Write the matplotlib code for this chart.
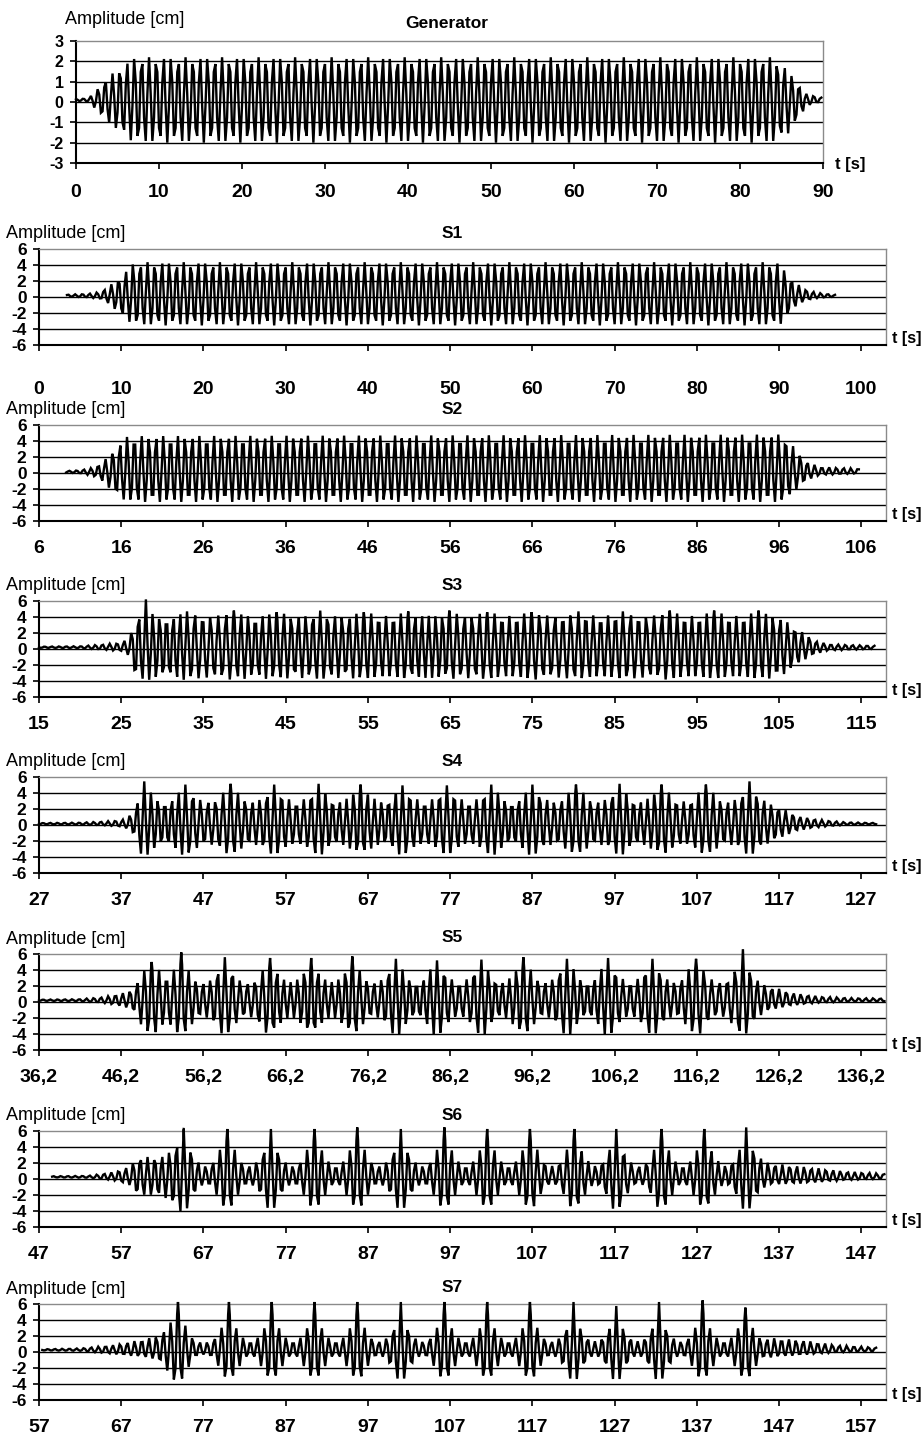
import numpy as np
import matplotlib
matplotlib.use('Agg')
import matplotlib.pyplot as plt
from matplotlib import rcParams

rcParams['font.family'] = ['Liberation Sans', 'DejaVu Sans']
rcParams['axes.unicode_minus'] = False
rcParams['axes.linewidth'] = 1.5

FIG_W, FIG_H = 923, 1434

## carrier wave period [s], about 11 waves per 10 s in the generator record
PERIOD = 0.88
## sampling step of the gauge records [s]
DT = 0.2

## envelopes: time [s], crest height and trough depth [cm]
GEN_T = [0.0, 1.5, 2.5, 3.5, 5.0, 7.0, 84.0, 85.5, 87.0, 88.0, 90.0]
GEN_UP = [0.05, 0.08, 0.5, 1.0, 1.5, 2.1, 2.1, 1.6, 0.8, 0.3, 0.1]
GEN_DN = [0.05, 0.08, 0.5, 1.0, 1.5, 2.1, 2.1, 1.8, 1.0, 0.3, 0.05]

S1_T = [3.4, 6.0, 7.5, 8.5, 9.5, 10.5, 11.5, 90.0, 90.8, 91.8, 93.0, 94.5, 97.0]
S1_UP = [0.15, 0.25, 0.5, 1.2, 2.0, 3.0, 4.2, 4.2, 3.0, 1.8, 0.9, 0.4, 0.1]
S1_DN = [0.1, 0.2, 0.4, 1.0, 2.0, 2.8, 3.7, 3.7, 2.9, 1.5, 0.7, 0.3, 0.1]

S2_T = [9.3, 11.0, 12.5, 13.5, 14.5, 15.5, 16.8, 96.5, 97.5, 98.5, 99.5, 101.0, 105.8]
S2_UP = [0.1, 0.2, 0.5, 1.0, 2.0, 3.2, 4.5, 4.7, 3.5, 2.2, 1.2, 0.6, 0.4]
S2_DN = [0.1, 0.2, 0.5, 1.0, 2.0, 3.0, 3.8, 3.8, 2.9, 1.8, 1.0, 0.4, 0.2]

S3_T = [15.0, 20.0, 23.0, 25.0, 26.0, 26.8, 27.5, 105.0, 106.5, 108.0, 109.5, 111.0, 116.7]
S3_UP = [0.1, 0.15, 0.4, 0.6, 1.2, 3.5, 3.9, 3.9, 2.8, 1.8, 0.8, 0.4, 0.2]
S3_DN = [0.05, 0.1, 0.3, 0.5, 1.0, 4.0, 3.8, 3.8, 2.7, 1.6, 0.8, 0.4, 0.2]
S3_GROUPS = [28.0, 33.0, 38.7, 43.9, 49.2, 54.5, 59.9, 64.9, 69.5, 74.9, 80.6, 86.0, 91.7, 97.1, 102.5]
S3_PEAKS = [6.0, 4.5, 4.6, 4.3, 4.6, 4.4, 4.5, 4.6, 4.4, 4.4, 4.5, 4.5, 4.6, 4.6, 4.6]

S4_T = [27.0, 32.0, 35.0, 37.5, 38.8, 39.3, 115.0, 116.5, 118.0, 119.5, 122.0, 125.0, 129.0]
S4_UP = [0.1, 0.15, 0.3, 0.5, 1.0, 2.7, 2.7, 2.3, 1.6, 0.9, 0.5, 0.2, 0.1]
S4_DN = [0.05, 0.1, 0.2, 0.4, 0.8, 2.5, 2.5, 2.1, 1.4, 0.8, 0.4, 0.15, 0.05]
S4_GROUPS = [39.8, 44.8, 50.3, 55.6, 61.0, 66.1, 71.2, 76.6, 82.0, 87.0, 92.3, 97.6, 102.7, 108.1, 113.4]
S4_PEAKS = [5.3, 4.9, 5.0, 4.9, 5.0, 4.9, 4.8, 4.8, 4.9, 4.9, 4.9, 5.0, 4.9, 4.9, 5.3]

S5_T = [36.2, 41.0, 44.0, 46.0, 47.5, 48.5, 122.5, 124.0, 126.0, 128.0, 131.0, 135.0, 139.2]
S5_UP = [0.1, 0.15, 0.4, 0.8, 1.2, 2.0, 2.2, 2.0, 1.5, 0.9, 0.5, 0.3, 0.25]
S5_DN = [0.05, 0.1, 0.3, 0.7, 1.0, 1.9, 1.9, 1.6, 1.0, 0.6, 0.3, 0.15, 0.1]
S5_GROUPS = [49.9, 53.5, 58.8, 64.3, 69.3, 74.3, 79.6, 84.6, 90.0, 95.1, 100.4, 105.4, 110.8, 116.1, 121.8]
S5_PEAKS = [4.8, 6.0, 5.4, 5.3, 5.3, 5.5, 5.2, 5.0, 5.1, 5.4, 5.2, 5.3, 5.2, 5.2, 6.4]

S6_T = [48.6, 53.0, 56.0, 58.0, 59.0, 63.0, 64.5, 66.0, 133.0, 135.0, 140.0, 145.0, 150.0]
S6_UP = [0.1, 0.15, 0.6, 1.3, 2.5, 2.5, 1.3, 1.2, 1.2, 1.8, 1.3, 0.7, 0.4]
S6_DN = [0.05, 0.1, 0.4, 1.0, 2.3, 2.3, 0.8, 0.7, 0.7, 1.0, 0.8, 0.4, 0.2]
S6_GROUPS = [64.6, 69.9, 75.2, 80.5, 85.7, 91.0, 96.3, 101.5, 106.7, 112.1, 117.2, 122.7, 127.9, 133.0]
S6_PEAKS = [6.0, 6.0, 6.0, 6.0, 6.2, 6.0, 6.2, 6.0, 6.0, 6.0, 6.0, 6.0, 6.0, 6.2]

S7_T = [57.4, 62.0, 66.0, 69.0, 72.0, 76.0, 133.0, 144.5, 146.0, 150.0, 154.0, 159.0]
S7_UP = [0.1, 0.2, 0.6, 1.2, 1.8, 0.9, 0.9, 0.9, 1.5, 1.2, 0.6, 0.3]
S7_DN = [0.05, 0.1, 0.5, 0.8, 1.2, 0.5, 0.5, 0.5, 0.9, 0.6, 0.3, 0.15]
S7_GROUPS = [73.9, 80.1, 85.3, 90.5, 95.7, 101.0, 106.3, 111.5, 116.7, 122.0, 127.2, 132.4, 137.7, 142.9]
S7_PEAKS = [6.0, 6.0, 6.0, 6.0, 6.0, 6.0, 6.0, 6.0, 6.0, 6.0, 5.5, 6.0, 6.2, 5.3]

## mean water level of each record [cm]
LEVELS = [0.1, 0.15, 0.15, 0.2, 0.15, 0.2, 0.25, 0.25]
## extra crest / trough inside a wave group [cm]
GROUP_UP = [0, 0, 0, 0.5, 1.8, 2.6, 3.3, 2.8]
GROUP_DN = [0, 0, 0, 0.3, 1.5, 2.6, 3.6, 3.5]

NAMES = ['Generator', 'S1', 'S2', 'S3', 'S4', 'S5', 'S6', 'S7']
XTICKS = [
	['0', '10', '20', '30', '40', '50', '60', '70', '80', '90'],
	['0', '10', '20', '30', '40', '50', '60', '70', '80', '90', '100'],
	['6', '16', '26', '36', '46', '56', '66', '76', '86', '96', '106'],
	['15', '25', '35', '45', '55', '65', '75', '85', '95', '105', '115'],
	['27', '37', '47', '57', '67', '77', '87', '97', '107', '117', '127'],
	['36,2', '46,2', '56,2', '66,2', '76,2', '86,2', '96,2', '106,2', '116,2', '126,2', '136,2'],
	['47', '57', '67', '77', '87', '97', '107', '117', '127', '137', '147'],
	['57', '67', '77', '87', '97', '107', '117', '127', '137', '147', '157'],
]

ENV = [
	(GEN_T, GEN_UP, GEN_DN, [], []),
	(S1_T, S1_UP, S1_DN, [], []),
	(S2_T, S2_UP, S2_DN, [], []),
	(S3_T, S3_UP, S3_DN, S3_GROUPS, S3_PEAKS),
	(S4_T, S4_UP, S4_DN, S4_GROUPS, S4_PEAKS),
	(S5_T, S5_UP, S5_DN, S5_GROUPS, S5_PEAKS),
	(S6_T, S6_UP, S6_DN, S6_GROUPS, S6_PEAKS),
	(S7_T, S7_UP, S7_DN, S7_GROUPS, S7_PEAKS),
]


def _phase(t, groups):
	# crest of the carrier lands on every group centre
	if len(groups) == 0:
		return 2 * np.pi * t / PERIOD
	g = np.array(groups)
	n = np.concatenate([[0], np.cumsum(np.round(np.diff(g) / PERIOD))])
	cyc = np.interp(t, g, n)
	cyc = np.where(t < g[0], (t - g[0]) / PERIOD, cyc)
	cyc = np.where(t > g[-1], n[-1] + (t - g[-1]) / PERIOD, cyc)
	return 2 * np.pi * cyc


def _record(i):
	kt, up, dn, groups, peaks = ENV[i]
	# samples at the gauge rate, plus the group crests themselves
	t = np.union1d(np.arange(kt[0], kt[-1], DT), groups)
	U = np.interp(t, kt, up)
	L = np.interp(t, kt, dn)
	for tc, pk in zip(groups, peaks):
		wide = np.exp(-0.5 * ((t - tc) / 1.0) ** 2)
		narrow = np.exp(-0.5 * ((t - tc) / 0.3) ** 2)
		base = np.interp(tc, kt, up)
		U = U + GROUP_UP[i] * wide + max(pk - base - GROUP_UP[i], 0) * narrow
		L = L + GROUP_DN[i] * wide
	c = np.cos(_phase(t, groups))
	y = LEVELS[i] + np.where(c > 0, U * c, L * c)
	return t, y


def _box(left, top, right, bottom):
	return [left / FIG_W, 1 - bottom / FIG_H, (right - left) / FIG_W, (bottom - top) / FIG_H]


fig = plt.figure(figsize=(FIG_W / 100, FIG_H / 100), dpi=100)

## pixel layout of the eight panels
boxes = [(76, 41, 823, 163)]
for top in [249, 425, 601, 777, 954, 1131, 1304]:
	boxes.append((39, top, 886, top + 96))
pads = [11, 22, 10, 10, 10, 10, 10, 10]

for i in range(8):
	left, top, right, bottom = boxes[i]
	ax = fig.add_axes(_box(left, top, right, bottom))
	t, y = _record(i)
	ax.plot(t, y, color='black', lw=1.7, zorder=3, clip_on=False, solid_joinstyle='miter')

	ticks = [float(s.replace(',', '.')) for s in XTICKS[i]]
	if i == 0:
		ax.set_xlim(0, 90)
		ax.set_ylim(-3, 3)
		yt = [3, 2, 1, 0, -1, -2, -3]
		ysize = 11.5
	else:
		ax.set_xlim(ticks[0], ticks[0] + 103)
		ax.set_ylim(-6, 6)
		yt = [6, 4, 2, 0, -2, -4, -6]
		ysize = 12.5
	ax.set_yticks(yt)
	ax.set_yticklabels([str(v) for v in yt], fontsize=ysize, fontweight='bold')
	ax.set_xticks(ticks)
	ax.set_xticklabels(XTICKS[i], fontsize=14, fontweight='bold')
	ax.tick_params(axis='x', direction='out', length=4, width=1.2, pad=pads[i])
	ax.tick_params(axis='y', direction='out', length=4, width=1.2, pad=5)

	for v in yt[1:-1]:
		ax.axhline(v, color='black', lw=1.0, zorder=1)
	ax.spines['top'].set_color('#8a8a8a')
	ax.spines['top'].set_linewidth(1.0)
	ax.spines['right'].set_color('#8a8a8a')
	ax.spines['right'].set_linewidth(1.0)

	## labels around the panel
	if i == 0:
		fig.text(65 / FIG_W, 1 - 20 / FIG_H, 'Amplitude [cm]', fontsize=13, va='center', ha='left')
		fig.text(447 / FIG_W, 1 - 24 / FIG_H, NAMES[i], fontsize=12.5, fontweight='bold', va='center', ha='center')
		fig.text(835 / FIG_W, 1 - (bottom + 2) / FIG_H, 't [s]', fontsize=12, fontweight='bold', va='center', ha='left')
	else:
		fig.text(6 / FIG_W, 1 - (top - 15) / FIG_H, 'Amplitude [cm]', fontsize=13, va='center', ha='left')
		fig.text(452 / FIG_W, 1 - (top - 16) / FIG_H, NAMES[i], fontsize=12.5, fontweight='bold', va='center', ha='center')
		fig.text(892 / FIG_W, 1 - (bottom - 6) / FIG_H, 't [s]', fontsize=11.5, fontweight='bold', va='center', ha='left')

fig.savefig('out.png', dpi=100)
